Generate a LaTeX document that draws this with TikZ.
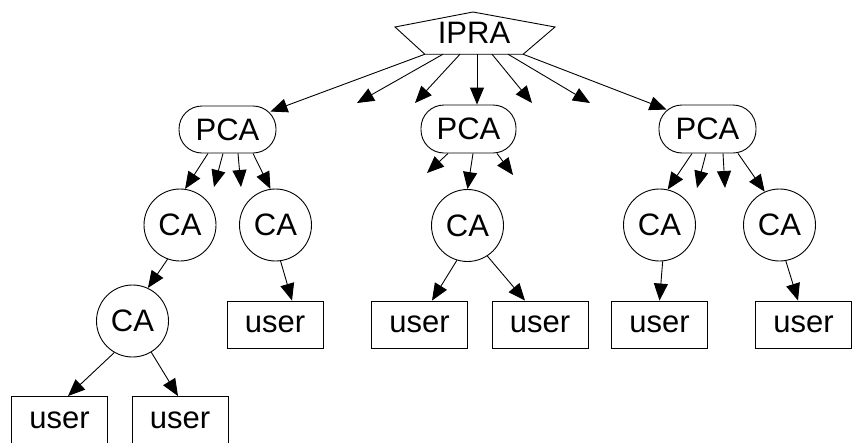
\documentclass[tikz,border=0pt]{standalone}
\usepackage{fontspec}
\setmainfont{Liberation Sans}
\usetikzlibrary{arrows.meta}
\begin{document}
\begin{tikzpicture}[x=1pt,y=-1pt,
  every node/.style={font=\fontsize{31}{36}\selectfont, inner sep=0pt},
  pca/.style={draw, line width=0.9pt, rounded corners=23pt, minimum width=97pt, minimum height=47pt},
  ca/.style={draw, line width=0.9pt, circle, minimum size=72pt},
  usr/.style={draw, line width=0.9pt, minimum width=96pt, minimum height=47pt},
  arr/.style={line width=0.9pt, -{Triangle[length=17pt,width=14pt]}}]
\useasboundingbox (0,0) rectangle (853,442);
% IPRA
\node (ipra) [minimum width=98pt, minimum height=42pt] at (474,33) {IPRA};
\draw[line width=0.9pt] (ipra.south west) -- (395,27) -- (473,12) -- (555,27) -- (ipra.south east) -- cycle;
% PCAs
\node (lpca) [pca] at (227.5,129.5) {PCA};
\node (mpca) [pca, minimum width=95pt, minimum height=48pt] at (468.5,129) {PCA};
\node (rpca) [pca, minimum height=48pt] at (707.5,129) {PCA};
% CAs
\node (ca1) [ca] at (180,225) {CA};
\node (ca2) [ca] at (275.5,225) {CA};
\node (ca3) [ca] at (467.5,225.5) {CA};
\node (ca4) [ca] at (659.5,225) {CA};
\node (ca5) [ca] at (779.5,225) {CA};
\node (ca6) [ca] at (132.5,321) {CA};
% users
\node (u2) [usr] at (275,324.5) {user};
\node (u3) [usr] at (419.5,324.5) {user};
\node (u4) [usr] at (540,324.5) {user};
\node (u5) [usr] at (659.5,324.5) {user};
\node (u6) [usr] at (803.5,324.5) {user};
\node (u7) [usr] at (59.5,420) {user};
\node (u8) [usr] at (180,420) {user};
% free arrow ends
\coordinate (f1) at (357,103);
\coordinate (f2) at (415,103);
\coordinate (f3) at (532,103);
\coordinate (f4) at (590,103);
\coordinate (f5) at (214,187);
\coordinate (f6) at (241,187);
\coordinate (f7) at (427,173);
\coordinate (f8) at (513,175);
\coordinate (f9) at (697,188);
\coordinate (f10) at (725,188);
% IPRA arrows
\draw[arr] ([xshift=-49pt]ipra.south) -- ([shift={(-6,6)}]lpca.north east);
\draw[arr] ([xshift=-31pt]ipra.south) -- (f1);
\draw[arr] ([xshift=-14pt]ipra.south) -- (f2);
\draw[arr] ([xshift=3pt]ipra.south) -- ([xshift=8.5pt]mpca.north);
\draw[arr] ([xshift=18pt]ipra.south) -- (f3);
\draw[arr] ([xshift=34pt]ipra.south) -- (f4);
\draw[arr] ([xshift=49pt]ipra.south) -- ([shift={(8,5)}]rpca.north west);
% left PCA arrows
\draw[arr] ([xshift=-19.5pt]lpca.south) -- (ca1.82);
\draw[arr] ([xshift=-4.5pt]lpca.south) -- (f5);
\draw[arr] ([xshift=10.5pt]lpca.south) -- (f6);
\draw[arr] ([xshift=25.5pt]lpca.south) -- (ca2.98);
% middle PCA arrows
\draw[arr] ([xshift=-20.5pt]mpca.south) -- (f7);
\draw[arr] ([xshift=4.5pt]mpca.south) -- (ca3.north);
\draw[arr] ([xshift=28.5pt]mpca.south) -- (f8);
% right PCA arrows
\draw[arr] ([xshift=-15.5pt]rpca.south) -- (ca4.77);
\draw[arr] ([xshift=-1.5pt]rpca.south) -- (f9);
\draw[arr] ([xshift=15.5pt]rpca.south) -- (f10);
\draw[arr] ([xshift=30.5pt]rpca.south) -- (ca5.114);
% CA arrows
\draw[arr] (ca1.250) -- (ca6.65);
\draw[arr] (ca2.278) -- ([xshift=17pt]u2.north);
\draw[arr] (ca3.253) -- ([xshift=12.5pt]u3.north);
\draw[arr] (ca3.303) -- ([xshift=-15pt]u4.north);
\draw[arr] (ca4.275) -- (u5.north);
\draw[arr] (ca5.280) -- ([xshift=-5.5pt]u6.north);
\draw[arr] (ca6.240) -- ([xshift=8.5pt]u7.north);
\draw[arr] (ca6.301) -- ([xshift=-2pt]u8.north);
\end{tikzpicture}
\end{document}
